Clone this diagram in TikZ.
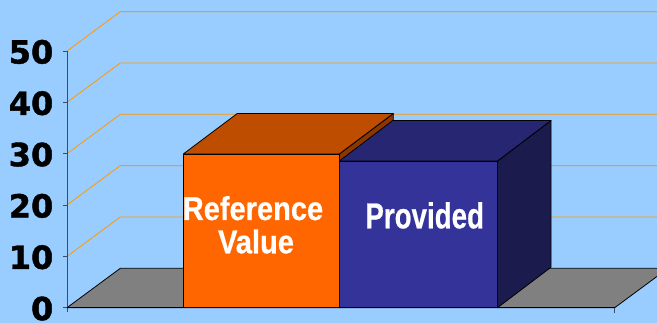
\documentclass[tikz,border=0pt]{standalone}
\usepackage{fontspec}
\setmainfont[BoldFeatures={FakeBold=0.6}]{Liberation Sans}
\newfontfamily\axisfont[BoldFeatures={FakeBold=1.2}]{DejaVu Sans}
\definecolor{bgblue}{HTML}{99CCFF}
\definecolor{gridorange}{HTML}{FF9900}
\definecolor{floorgray}{HTML}{808080}
\definecolor{orfront}{HTML}{FF6600}
\definecolor{ortop}{HTML}{BF4D00}
\definecolor{orside}{HTML}{8C3600}
\definecolor{blfront}{HTML}{333399}
\definecolor{bltop}{HTML}{262673}
\definecolor{blside}{HTML}{1B1B4D}
\definecolor{axiscol}{HTML}{3A4A6A}
\begin{document}
\begin{tikzpicture}[x=1pt,y=-1pt,
  gridline/.style={gridorange,line width=0.8pt},
  facebox/.style={draw=black,line width=0.8pt,line join=round},
  axisline/.style={axiscol,line width=1pt},
  ticklab/.style={anchor=base east,inner sep=0pt,font=\axisfont\bfseries\fontsize{32}{32}\selectfont},
  barlabel/.style={anchor=base,inner sep=0pt,text=white,font=\bfseries\fontsize{33}{33}\selectfont}]
\fill[bgblue] (0,0) rectangle (657,323);
\useasboundingbox (0,0) rectangle (657,323);
% grid lines
\foreach \v in {10,20,30,40,50}
  \draw[gridline] (67,{307.7-5.133*\v}) -- ++(53.3,-39.4) -- (657,{268.3-5.133*\v});
% floor
\filldraw[fill=floorgray,draw=black,line width=0.8pt] (67,307.7) -- (120.3,268.3) -- (668,268.3) -- (614.7,307.7) -- cycle;
% value axis
\draw[axisline] (67,51) -- (67,311.7);
\foreach \v in {0,10,20,30,40,50}{
  \draw[axisline] (62.5,{307.7-5.133*\v}) -- (67,{307.7-5.133*\v});
  \node[ticklab] (lab\v) at (53.5,{307.7-5.133*\v+12.5}) {\v};
}
% orange bar
\path[facebox,fill=orside] (339.3,154) -- (393.3,113.5) -- (393.3,267.2) -- (339.3,307.7) -- cycle;
\path[facebox,fill=ortop] (183.3,154) -- (237.3,113.5) -- (393.3,113.5) -- (339.3,154) -- cycle;
\path[facebox,fill=orfront] (183.3,154) rectangle (339.3,307.7);
% blue bar
\path[facebox,fill=blside] (497.5,161) -- (551,120.5) -- (551,267.2) -- (497.5,307.7) -- cycle;
\path[facebox,fill=bltop] (339.3,161) -- (392.8,120.5) -- (551,120.5) -- (497.5,161) -- cycle;
\path[facebox,fill=blfront] (339.3,161) rectangle (497.5,307.7);
% category axis
\draw[black,line width=1.2pt] (67,307.7) -- (614.7,307.7);
\draw[axisline] (614.5,307.7) -- (614.5,313);
% labels
\node[barlabel] (ref1) at (253,220) {\scalebox{0.88}[1]{Reference}};
\node[barlabel] (ref2) at (256,253.3) {\scalebox{0.88}[1]{Value}};
\node[barlabel,font=\bfseries\fontsize{36}{36}\selectfont] (prov) at (424.7,228.3) {\scalebox{0.77}[1]{Provided}};
\end{tikzpicture}
\end{document}
